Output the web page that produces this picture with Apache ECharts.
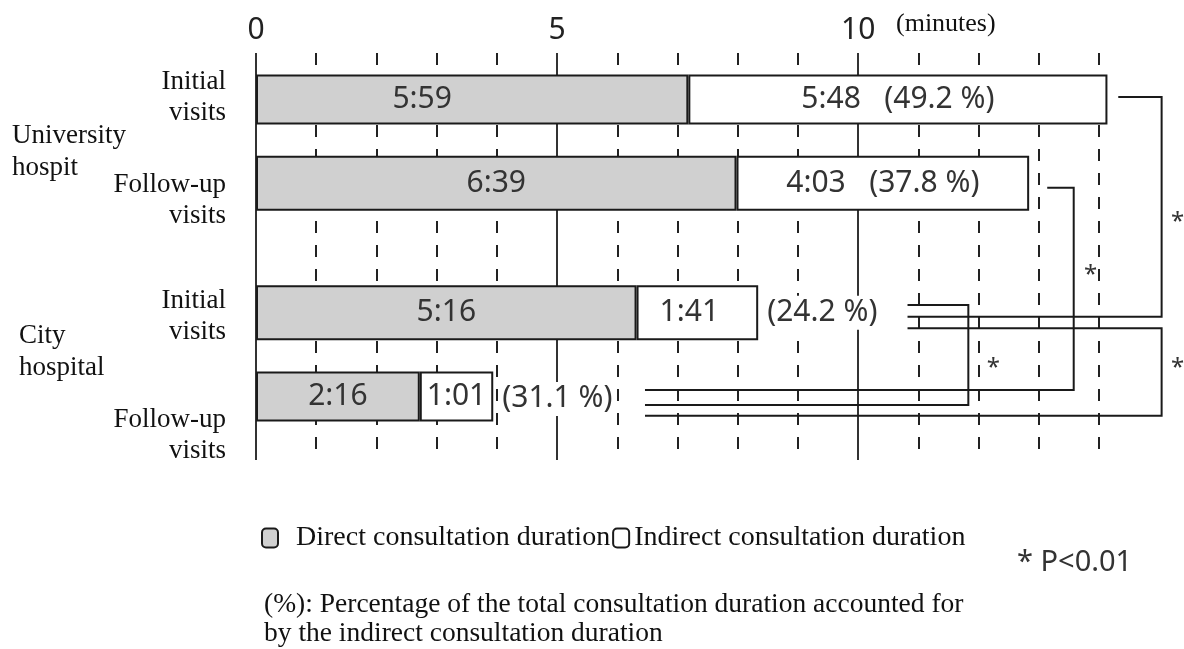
<!DOCTYPE html>
<html>
<head>
<meta charset="utf-8">
<script src="https://cdn.jsdelivr.net/npm/echarts@6/dist/echarts.min.js"></script>
<style>html,body{margin:0;padding:0;background:#fff}#main{width:1184px;height:649px}</style>
</head>
<body>
<div id="main"></div>
<script>
// rows, top to bottom
var rowNames = ['Initial visits', 'Follow-up visits', 'Initial visits', 'Follow-up visits'];
var hospitals = ['University\nhospit', 'City\nhospital'];
// durations in seconds (from the m:ss labels)
var directSec = [359, 399, 316, 136];
var indirectSec = [348, 243, 101, 61];
// share of indirect duration, %
var indirectPct = [49.2, 37.8, 24.2, 31.1];
var tickLabels = ['0', '5', '10'];
var seriesNames = ['Direct consultation duration', 'Indirect consultation duration'];
var footnote = '(%): Percentage of the total consultation duration accounted for\nby the indirect consultation duration';

// slot of each row on the category axis (leaves a gap between hospitals)
var rowSlot = [0, 2, 5, 7];
var nSlots = 8;

var serif = '"Liberation Serif", "Times New Roman", serif';
var sans = '"Noto Sans", sans-serif';

function mmss(s) {
    var m = Math.floor(s / 60), r = s % 60;
    return m + ':' + (r < 10 ? '0' : '') + r;
}

var slots = [], directData = [], indirectData = [], pctData = [];
for (var k = 0; k < nSlots; k++) {
    slots.push('s' + k);
    directData.push('-');
    indirectData.push('-');
}
rowSlot.forEach(function (s, i) {
    directData[s] = { value: directSec[i], row: i };
    indirectData[s] = { value: indirectSec[i], row: i };
    if (i >= 2) pctData.push({ value: [directSec[i] + indirectSec[i], s], row: i });
});
// the first label sits left of centre in the original
directData[rowSlot[0]].label = { offset: [-50, 0] };
indirectData[rowSlot[2]].label = { offset: [-8, 0] };

// extra top space per label so the two-line text sits a bit lower
var labelShift = [0, 34, 8, 72];

var chart = echarts.init(document.getElementById('main'));
var option = {
    backgroundColor: '#fff',
    animation: false,
    grid: [
        { left: 256, width: 843, top: 53, height: 407 },
        { left: 256, width: 843 * 750 / 700, top: 75.4, height: 345.1 }
    ],
    xAxis: [
        {
            gridIndex: 0, type: 'value', position: 'top', min: 0, max: 700, interval: 50,
            axisLine: { show: false }, axisTick: { show: false },
            axisLabel: {
                margin: 8, fontSize: 30, fontFamily: sans, color: '#222',
                formatter: function (v) { return v % 250 === 0 ? tickLabels[v / 250] : ''; }
            },
            splitLine: { show: true, lineStyle: { color: '#222', width: 2, type: [12, 12] } }
        },
        {
            gridIndex: 0, type: 'value', position: 'top', min: 0, max: 700, interval: 250,
            axisLine: { show: false }, axisTick: { show: false }, axisLabel: { show: false },
            splitLine: { show: true, showMaxLine: false, lineStyle: { color: '#333', width: 2 } }
        },
        { gridIndex: 1, type: 'value', min: 0, max: 750, show: false }
    ],
    yAxis: [
        { gridIndex: 0, type: 'value', show: false },
        {
            gridIndex: 1, type: 'category', inverse: true, data: slots,
            axisLine: { show: false }, axisTick: { show: false }, splitLine: { show: false },
            axisLabel: {
                interval: 0, margin: 30, align: 'right', color: '#111',
                formatter: function (v, idx) {
                    var r = rowSlot.indexOf(idx);
                    if (r < 0) return '';
                    var w = rowNames[r].split(' ');
                    var sp = labelShift[r] ? '{sp' + r + '| }\n' : '';
                    return sp + '{t|' + w[0] + '}\n{t|' + w[1] + '}';
                },
                rich: {
                    t: { fontFamily: serif, fontSize: 27, lineHeight: 31, color: '#111', align: 'right' },
                    sp1: { fontSize: 1, lineHeight: 34 },
                    sp2: { fontSize: 1, lineHeight: 8 },
                    sp3: { fontSize: 1, lineHeight: 72 }
                }
            }
        }
    ],
    legend: {
        left: 256, top: 519, itemWidth: 16, itemHeight: 19, itemGap: 2, icon: 'roundRect',
        textStyle: { fontFamily: serif, fontSize: 28, color: '#111' },
        data: [
            { name: seriesNames[0], textStyle: { padding: [0, 0, 0, 13] } },
            { name: seriesNames[1] }
        ]
    },
    series: [
        {
            name: seriesNames[0], type: 'bar', stack: 'total', xAxisIndex: 2, yAxisIndex: 1,
            barWidth: 55, data: directData,
            itemStyle: { color: '#d0d0d0', borderColor: '#1a1a1a', borderWidth: 2 },
            label: {
                show: true, position: 'inside', fontFamily: sans, fontSize: 30, color: '#333',
                formatter: function (p) { return mmss(p.value); }
            }
        },
        {
            name: seriesNames[1], type: 'bar', stack: 'total', xAxisIndex: 2, yAxisIndex: 1,
            barWidth: 55, data: indirectData,
            itemStyle: { color: '#fff', borderColor: '#1a1a1a', borderWidth: 2 },
            label: {
                show: true, position: 'inside', fontFamily: sans, fontSize: 30, color: '#333',
                formatter: function (p) {
                    var r = p.data.row;
                    return r < 2 ? mmss(p.value) + '   (' + indirectPct[r] + ' %)' : mmss(p.value);
                }
            }
        },
        {
            type: 'scatter', xAxisIndex: 2, yAxisIndex: 1, symbolSize: 0, data: pctData, silent: true,
            itemStyle: { opacity: 1 },
            label: {
                show: true, position: 'right', distance: 9, fontFamily: sans, fontSize: 30, color: '#333',
                backgroundColor: '#fff', padding: [2, 0],
                formatter: function (p) { return '(' + indirectPct[p.data.row] + ' %)'; }
            }
        }
    ]
};
chart.setOption(option);

// significance brackets: rows + pixel offsets, x in seconds on the bar axis
function px(sec, row, dy) {
    var p = chart.convertToPixel({ gridIndex: 1 }, [sec, rowSlot[row]]);
    return [p[0], p[1] + (dy || 0)];
}
var brackets = [
    // [topRow, topDy, topStartSec, vertSec, botRow, botDy, botStartSec, starDx, starY]
    [0, 0, 716, 752, 2, 4, 541, 16, 222],
    [1, 4.5, 657, 679, 3, -9, 323, 17, 275],
    [2, -7.7, 541, 591.5, 3, 6, 323, 25, 368],
    [2, 15.6, 541, 752, 3, 16.7, 323, 16, 368]
];
var graphics = [];
brackets.forEach(function (b) {
    var a = px(b[2], b[0], b[1]), v1 = px(b[3], b[0], b[1]);
    var v2 = px(b[3], b[4], b[5]), e = px(b[6], b[4], b[5]);
    graphics.push({
        type: 'polyline', z: 10,
        shape: { points: [a, v1, v2, e] },
        style: { stroke: '#1a1a1a', lineWidth: 2, fill: null }
    });
    graphics.push({
        type: 'text', z: 10, x: v1[0] + b[7], y: b[8],
        style: { text: '*', font: '24px ' + sans, fill: '#333', align: 'center', verticalAlign: 'middle' }
    });
});
graphics.push({
    type: 'text', x: 12, y: 120,
    style: { text: hospitals[0], font: '27px ' + serif, lineHeight: 32, fill: '#111' }
});
graphics.push({
    type: 'text', x: 19, y: 320,
    style: { text: hospitals[1], font: '27px ' + serif, lineHeight: 32, fill: '#111' }
});
graphics.push({
    type: 'text', x: 896, y: 24,
    style: { text: '(minutes)', font: '26px ' + serif, fill: '#111', verticalAlign: 'middle' }
});
graphics.push({
    type: 'text', x: 1017, y: 563,
    style: { text: '* P<0.01', font: '29px ' + sans, fill: '#333', verticalAlign: 'middle' }
});
graphics.push({
    type: 'text', x: 264, y: 590,
    style: { text: footnote, font: '27.5px ' + serif, lineHeight: 29, fill: '#111' }
});
chart.setOption({ graphic: graphics });
</script>
</body>
</html>
